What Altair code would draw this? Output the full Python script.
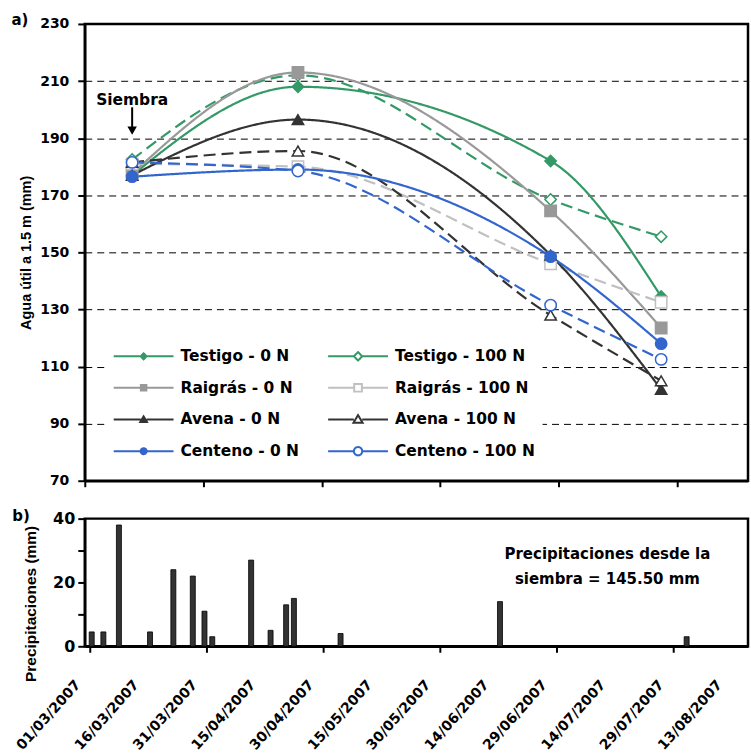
import math
import altair as alt
import pandas as pd

# --- Agua útil a 1.5 m (mm), fechas de medición ---
fechas_medicion = ["2007-03-13", "2007-04-24", "2007-06-27", "2007-07-25"]
series = [
    "Testigo - 0 N", "Testigo - 100 N",
    "Raigrás - 0 N", "Raigrás - 100 N",
    "Avena - 0 N", "Avena - 100 N",
    "Centeno - 0 N", "Centeno - 100 N",
]
testigo_0n = [177.0, 208.0, 182.0, 134.5]
testigo_100n = [182.5, 212.0, 168.5, 155.5]
raigras_0n = [177.5, 213.0, 164.5, 123.5]
raigras_100n = [181.0, 180.0, 146.0, 132.5]
avena_0n = [177.0, 196.5, 149.0, 102.0]
avena_100n = [181.5, 185.5, 128.0, 105.0]
centeno_0n = [176.5, 179.0, 148.5, 118.0]
centeno_100n = [181.5, 178.5, 131.5, 112.5]
valores = [testigo_0n, testigo_100n, raigras_0n, raigras_100n,
           avena_0n, avena_100n, centeno_0n, centeno_100n]

# --- Precipitaciones diarias (mm) ---
fechas_lluvia = ["2007-03-01", "2007-03-04", "2007-03-08", "2007-03-16",
                 "2007-03-22", "2007-03-27", "2007-03-30", "2007-04-01",
                 "2007-04-11", "2007-04-16", "2007-04-20", "2007-04-22",
                 "2007-05-04", "2007-06-14", "2007-08-01"]
lluvia_mm = [4.5, 4.5, 38, 4.5, 24, 22, 11, 3, 27, 5, 13, 15, 4, 14, 3]
fecha_siembra = "2007-03-13"

# --- estilos por serie ---
colores = ["#339966", "#339966", "#999999", "#C0C0C0",
           "#333333", "#333333", "#3366CC", "#3366CC"]
formas = ["diamond", "diamond", "square", "square",
          "triangle-up", "triangle-up", "circle", "circle"]
abiertos = [False, True] * 4
rellenos = ["white" if a else c for a, c in zip(abiertos, colores)]
dosis = ["0 N", "100 N"]
trazos_dosis = [[1, 0], [12, 6]]

agua = pd.DataFrame([
    {"fecha": f, "agua": v, "serie": s, "dosis": s.split(" - ")[1]}
    for s, vals in zip(series, valores)
    for f, v in zip(fechas_medicion, vals)
])
lluvia = pd.DataFrame({"fecha": [f + "T12:00:00Z" for f in fechas_lluvia],
                       "mm": lluvia_mm})
total_siembra = sum(m for f, m in zip(fechas_lluvia, lluvia_mm) if f >= fecha_siembra)

FONT_H = "DejaVu Sans"
FONT_V = "Liberation Sans"

t0 = pd.Timestamp("2007-03-01", tz="UTC")
T0_MS = int(t0.timestamp() * 1000)


def dt(days):
    d = t0 + pd.Timedelta(days=days)
    return alt.DateTime(year=d.year, month=d.month, date=d.day, utc=True)


x_scale = alt.Scale(type="utc", domain=[dt(0), dt(168)])
ticks_30 = [dt(d) for d in range(0, 151, 30)]
ticks_15 = [dt(d) for d in range(0, 166, 15)]


# legend symbols: line + marker drawn as one path (unit = sqrt(size)/2 px)
def poly(points):
    return "M" + "L".join(f"{x:.3f},{y:.3f}" for x, y in points) + "Z"


def marker_path(forma, abierto):
    r = 0.42 if abierto else 0.3
    if forma == "diamond":
        m = poly([(0, -r), (r, 0), (0, r), (-r, 0)])
    elif forma == "square":
        q = r * 0.92
        m = poly([(-q, -q), (q, -q), (q, q), (-q, q)])
    elif forma == "triangle-up":
        m = poly([(0, -r * 1.05), (r * 1.1, r * 0.8), (-r * 1.1, r * 0.8)])
    else:
        m = poly([(r * math.cos(2 * math.pi * k / 20), r * math.sin(2 * math.pi * k / 20))
                  for k in range(20)])
    return f"M-3,0H{-r:.2f}M{r:.2f},0H3" + m


simbolos = [marker_path(f, a) for f, a in zip(formas, abiertos)]

# two legend columns: 0 N on the left, 100 N on the right (entries fill column by column)
orden_leyenda = series[0::2] + series[1::2]

leyenda = alt.Legend(
    title=None, orient="none", legendX=23, legendY=316, values=orden_leyenda,
    columns=2, columnPadding=25, rowPadding=11.8,
    symbolSize=400, symbolStrokeWidth=2, symbolOffset=19, symbolDash=[1, 0],
    labelOffset=26, labelFont=FONT_H, labelFontSize=15.5,
    labelFontWeight="bold", labelColor="black", labelLimit=300,
    padding=6, fillColor="white", strokeColor="white",
)

escala_color = alt.Scale(domain=series, range=colores)
escala_relleno = alt.Scale(domain=series, range=rellenos)

x_top = alt.X("fecha:T", scale=x_scale, title=None,
              axis=alt.Axis(values=ticks_30, labels=False, grid=False,
                            tickSize=6, tickWidth=2, tickColor="black",
                            domainColor="black", domainWidth=2.5))
y_top = alt.Y("agua:Q", scale=alt.Scale(domain=[70, 230], nice=False),
              axis=alt.Axis(values=list(range(70, 231, 20)), title="Agua útil a 1.5 m (mm)",
                            titleFont=FONT_V, titleFontSize=14.5, titleFontWeight="bold",
                            titleColor="black", titlePadding=6,
                            labelFont=FONT_H, labelFontSize=14, labelFontWeight="bold",
                            labelColor="black", labelPadding=9,
                            tickSize=7, tickWidth=2, tickColor="black",
                            domainColor="black", domainWidth=2.5,
                            grid=True, gridColor="black", gridDash=[7, 5], gridWidth=1))

# legend only: no rows drawn, entries come from the scale domains
capa_leyenda = alt.Chart(agua).transform_filter("false").mark_point(
    filled=False, strokeWidth=2, opacity=1
).encode(
    x=x_top, y=y_top,
    color=alt.Color("serie:N", scale=escala_color, legend=leyenda),
    fill=alt.Fill("serie:N", scale=escala_relleno, legend=leyenda),
    shape=alt.Shape("serie:N", scale=alt.Scale(domain=series, range=simbolos), legend=leyenda),
)

lineas = alt.Chart(agua).mark_line(interpolate="monotone", strokeWidth=2.2).encode(
    x="fecha:T", y="agua:Q",
    color=alt.Color("serie:N", scale=escala_color),
    detail="serie:N",
    strokeDash=alt.StrokeDash("dosis:N", scale=alt.Scale(domain=dosis, range=trazos_dosis),
                              legend=None),
)

# markers: one layer per marker shape
capas_puntos = []
for forma in ["diamond", "square", "triangle-up", "circle"]:
    de_forma = [s for s, f in zip(series, formas) if f == forma]
    capas_puntos.append(
        alt.Chart(agua).transform_filter(
            alt.FieldOneOfPredicate(field="serie", oneOf=de_forma)
        ).mark_point(shape=forma, filled=False, size=130, strokeWidth=1.5, opacity=1).encode(
            x="fecha:T", y="agua:Q",
            color=alt.Color("serie:N", scale=escala_color),
            fill=alt.Fill("serie:N", scale=escala_relleno),
        )
    )

siembra = pd.DataFrame({"fecha": [fecha_siembra], "texto": ["Siembra"]})
siembra_txt = alt.Chart(siembra).mark_text(
    font=FONT_H, fontSize=15.5, fontWeight="bold", color="black", baseline="middle"
).encode(x="fecha:T", y=alt.datum(203.5), text="texto:N")
siembra_flecha = alt.Chart(siembra).mark_rule(color="black", strokeWidth=2).encode(
    x="fecha:T", y=alt.datum(200.8), y2=alt.datum(193.5))
siembra_punta = alt.Chart(siembra).mark_point(
    shape="triangle-down", filled=True, color="black", size=90, opacity=1
).encode(x="fecha:T", y=alt.datum(192.6))

etiqueta_a = alt.Chart(pd.DataFrame({"t": ["a)"]})).mark_text(
    font=FONT_H, fontSize=15, fontWeight="bold", color="black", align="center", baseline="middle"
).encode(text="t:N", x=alt.value(-65), y=alt.value(-4))

panel_a = alt.layer(capa_leyenda, lineas, *capas_puntos, siembra_txt, siembra_flecha,
                    siembra_punta, etiqueta_a).properties(width=665, height=458)

# --- panel b: precipitaciones ---
x_bot = alt.X("fecha:T", scale=x_scale, title=None,
              axis=alt.Axis(values=ticks_15, grid=False, labelOverlap=False, labelFlush=False,
                            labelExpr="utcFormat(datum.value, '%d/%m/%Y')",
                            labelAngle=-48, labelAlign="right", labelBaseline="middle",
                            labelFont=FONT_H, labelFontSize=14, labelFontWeight="bold",
                            labelColor="black", labelPadding=30, labelOffset=-12,
                            tickSize=6, tickWidth=2, tickColor="black",
                            tickOpacity={"condition": {
                                "test": f"round((datum.value - {T0_MS}) / 86400000) % 30 === 0",
                                "value": 1}, "value": 0},
                            domainColor="black", domainWidth=2.5))
y_bot = alt.Y("mm:Q", scale=alt.Scale(domain=[0, 40], nice=False),
              axis=alt.Axis(values=[0, 10, 20, 30, 40], title="Precipitaciones (mm)",
                            labelExpr="datum.value % 20 === 0 ? datum.label : ''",
                            titleFont=FONT_V, titleFontSize=15.5, titleFontWeight="bold",
                            titleColor="black", titlePadding=14, titleY=85,
                            labelFont=FONT_H, labelFontSize=16, labelFontWeight="bold",
                            labelColor="black", labelPadding=3,
                            tickSize=7, tickWidth=2, tickColor="black",
                            domainColor="black", domainWidth=2.5, grid=False))

barras = alt.Chart(lluvia).mark_bar(width=5, color="#333333", stroke="black", strokeWidth=0.8).encode(
    x=x_bot, y=y_bot)

texto_total = alt.Chart(pd.DataFrame({"t": [["Precipitaciones desde la",
                                             f"siembra = {total_siembra:.2f} mm"]]})).mark_text(
    font=FONT_H, fontSize=15, fontWeight="bold", color="black", align="center",
    baseline="middle", lineHeight=26
).encode(text="t", x=alt.value(524), y=alt.value(35))

etiqueta_b = alt.Chart(pd.DataFrame({"t": ["b)"]})).mark_text(
    font=FONT_H, fontSize=15, fontWeight="bold", color="black", align="center", baseline="middle"
).encode(text="t:N", x=alt.value(-64), y=alt.value(-3))

panel_b = alt.layer(barras, texto_total, etiqueta_b).properties(width=665, height=128)

chart = alt.vconcat(panel_a, panel_b, spacing=17).properties(
    padding={"left": 10, "top": 10, "right": 1, "bottom": 0},
    background="white",
).configure_view(stroke="black", strokeWidth=2.5)

chart.save("out.html", embed_options={"renderer": "svg", "actions": False})
